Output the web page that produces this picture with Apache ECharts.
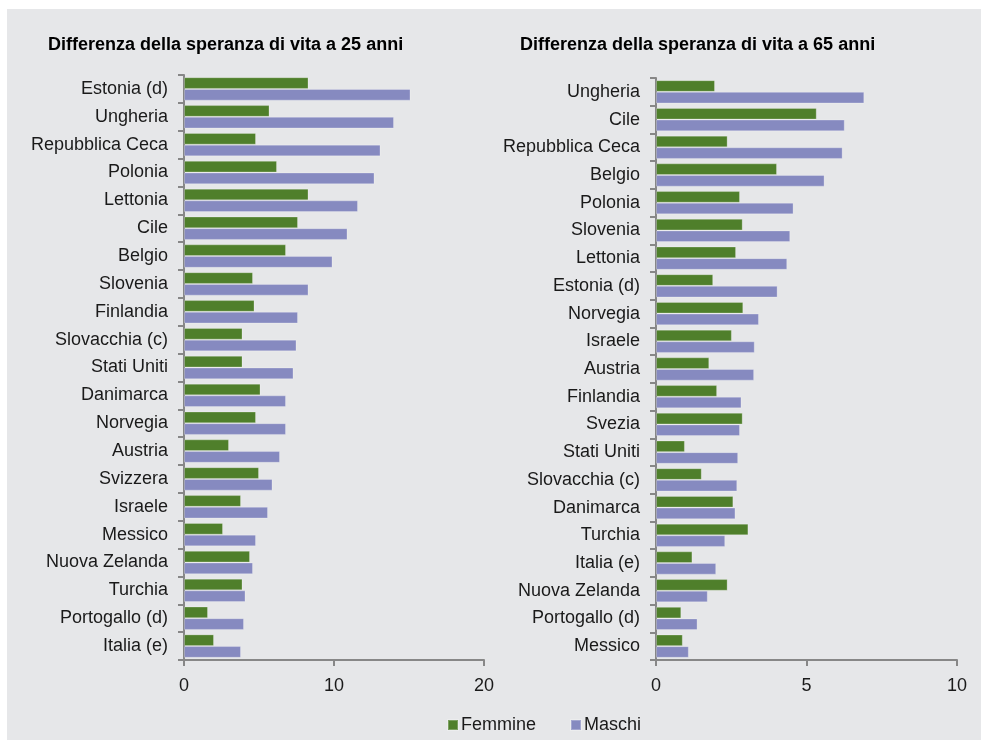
<!DOCTYPE html>
<html>
<head>
<meta charset="utf-8">
<script src="https://cdn.jsdelivr.net/npm/echarts@6/dist/echarts.min.js"></script>
<style>
  html, body { margin: 0; padding: 0; background: #fff; }
  #chart { width: 981px; height: 744px; }
</style>
</head>
<body>
<div id="chart"></div>
<script>
// Differenza della speranza di vita a 25 anni (dall'alto in basso)
const paesi25 = ['Estonia (d)', 'Ungheria', 'Repubblica Ceca', 'Polonia', 'Lettonia', 'Cile', 'Belgio',
  'Slovenia', 'Finlandia', 'Slovacchia (c)', 'Stati Uniti', 'Danimarca', 'Norvegia', 'Austria',
  'Svizzera', 'Israele', 'Messico', 'Nuova Zelanda', 'Turchia', 'Portogallo (d)', 'Italia (e)']
const femmine25 = [8.3, 5.7, 4.8, 6.2, 8.3, 7.6, 6.8, 4.6, 4.7, 3.9, 3.9, 5.1, 4.8, 3.0, 5.0, 3.8, 2.6, 4.4, 3.9, 1.6, 2.0]
const maschi25 = [15.1, 14.0, 13.1, 12.7, 11.6, 10.9, 9.9, 8.3, 7.6, 7.5, 7.3, 6.8, 6.8, 6.4, 5.9, 5.6, 4.8, 4.6, 4.1, 4.0, 3.8]

// Differenza della speranza di vita a 65 anni
const paesi65 = ['Ungheria', 'Cile', 'Repubblica Ceca', 'Belgio', 'Polonia', 'Slovenia', 'Lettonia',
  'Estonia (d)', 'Norvegia', 'Israele', 'Austria', 'Finlandia', 'Svezia', 'Stati Uniti',
  'Slovacchia (c)', 'Danimarca', 'Turchia', 'Italia (e)', 'Nuova Zelanda', 'Portogallo (d)', 'Messico']
const femmine65 = [1.96, 5.34, 2.38, 4.02, 2.79, 2.88, 2.66, 1.9, 2.9, 2.52, 1.77, 2.03, 2.88, 0.96, 1.52, 2.57, 3.07, 1.21, 2.38, 0.84, 0.89]
const maschi65 = [6.92, 6.27, 6.2, 5.6, 4.57, 4.46, 4.36, 4.04, 3.42, 3.28, 3.26, 2.84, 2.79, 2.73, 2.7, 2.64, 2.3, 2.0, 1.72, 1.38, 1.09]

const colFemmine = '#4f7f2b'
const colMaschi = '#868ac0'
const axisGray = '#878787'
const font = 'Liberation Sans, Arial, sans-serif'

const chart = echarts.init(document.getElementById('chart'), null, { renderer: 'canvas' })

function catAxis(idx, data) {
  return {
    type: 'category', gridIndex: idx, data: data, inverse: true,
    axisLine: { lineStyle: { color: axisGray, width: 2 } },
    axisTick: { show: true, length: 6, lineStyle: { color: axisGray, width: 2 } },
    axisLabel: { color: '#1a1a1a', fontSize: 18, fontFamily: font, margin: 16 }
  }
}
function valAxis(idx, max, interval) {
  return {
    type: 'value', gridIndex: idx, min: 0, max: max, interval: interval,
    splitLine: { show: false },
    axisLine: { show: true, lineStyle: { color: axisGray, width: 2 } },
    axisTick: { show: true, length: 6, lineStyle: { color: axisGray, width: 2 } },
    axisLabel: { color: '#1a1a1a', fontSize: 18, fontFamily: font, margin: 17 }
  }
}
function barSerie(name, x, y, data, color) {
  return {
    name: name, type: 'bar', xAxisIndex: x, yAxisIndex: y, data: data,
    barGap: '0%', barCategoryGap: '16%',
    itemStyle: { color: color, borderColor: 'rgba(255,255,255,0.25)', borderWidth: 1 },
    animation: false
  }
}

chart.setOption({
  backgroundColor: '#ffffff',
  graphic: [{
    type: 'rect', z: -10, silent: true,
    shape: { x: 7, y: 9, width: 974, height: 731 },
    style: { fill: '#e6e7e9' }
  }],
  title: [
    { text: 'Differenza della speranza di vita a 25 anni', left: 48, top: 36, padding: 0,
      textStyle: { fontSize: 18, fontWeight: 'bold', color: '#000', fontFamily: font } },
    { text: 'Differenza della speranza di vita a 65 anni', left: 520, top: 36, padding: 0,
      textStyle: { fontSize: 18, fontWeight: 'bold', color: '#000', fontFamily: font } }
  ],
  legend: {
    data: ['Femmine', 'Maschi'], top: 716, left: 447, padding: 0,
    itemWidth: 10, itemHeight: 10, itemGap: 34,
    icon: 'rect',
    textStyle: { fontSize: 18, color: '#1a1a1a', fontFamily: font, padding: [0, 0, 0, -2] }
  },
  grid: [
    { left: 184, right: 497, top: 75, bottom: 84 },
    { left: 656, right: 24, top: 78, bottom: 84 }
  ],
  xAxis: [valAxis(0, 20, 10), valAxis(1, 10, 5)],
  yAxis: [catAxis(0, paesi25), catAxis(1, paesi65)],
  series: [
    barSerie('Femmine', 0, 0, femmine25, colFemmine),
    barSerie('Maschi', 0, 0, maschi25, colMaschi),
    barSerie('Femmine', 1, 1, femmine65, colFemmine),
    barSerie('Maschi', 1, 1, maschi65, colMaschi)
  ]
})
</script>
</body>
</html>
